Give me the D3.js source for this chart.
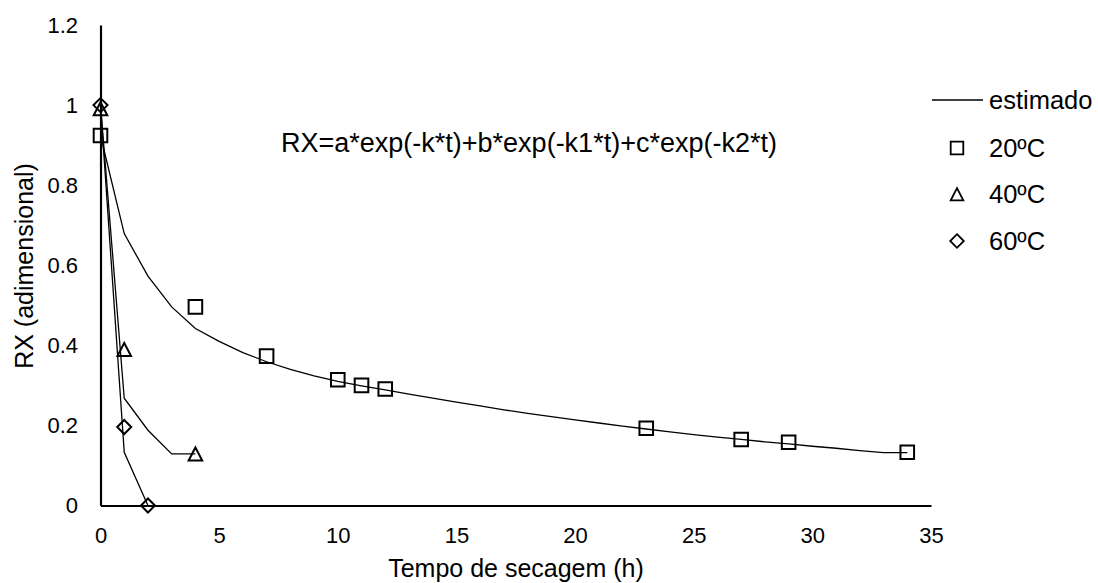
<!DOCTYPE html>
<html><head><meta charset="utf-8">
<script src="https://cdn.jsdelivr.net/npm/d3@7"></script>
<style>body{margin:0;background:#fff} text{font-family:"Liberation Sans",Arial,sans-serif;fill:#000}</style>
</head><body><svg id="c" width="1098" height="583"></svg>
<script>
// observed data
const tObs20 = [0, 4, 7, 10, 11, 12, 23, 27, 29, 34];
const rxObs20 = [0.924, 0.496, 0.373, 0.314, 0.300, 0.291, 0.193, 0.165, 0.158, 0.133];
const tObs40 = [0, 1, 4];
const rxObs40 = [0.99, 0.389, 0.128];
const tObs60 = [0, 1, 2];
const rxObs60 = [1.0, 0.196, 0.0];
// estimated (fitted) curves
const tEst20 = [0,1,2,3,4,5,6,7,8,9,10,11,12,13,14,15,16,17,18,19,20,21,22,23,24,25,26,27,28,29,30,31,32,33,34];
const rxEst20 = [0.924,0.679,0.573,0.496,0.442,0.410,0.382,0.359,0.340,0.324,0.310,0.299,0.289,0.278,0.268,0.258,0.249,0.239,0.230,0.222,0.214,0.206,0.198,0.191,0.184,0.177,0.171,0.165,0.159,0.154,0.148,0.143,0.137,0.132,0.132];
const tEst40 = [0, 1, 2, 3, 4];
const rxEst40 = [1.0, 0.268, 0.188, 0.129, 0.129];
const tEst60 = [0, 1, 2];
const rxEst60 = [1.0, 0.133, 0.0];
const xTicks = [0, 5, 10, 15, 20, 25, 30, 35];
const yTicks = [0, 0.2, 0.4, 0.6, 0.8, 1.0, 1.2];
const legendLabels = ["estimado", "20ºC", "40ºC", "60ºC"];
const equation = "RX=a*exp(-k*t)+b*exp(-k1*t)+c*exp(-k2*t)";
const xTitle = "Tempo de secagem (h)";
const yTitle = "RX (adimensional)";

const svg = d3.select("#c");
const x = d3.scaleLinear().domain([0, 35]).range([100.5, 931]);
const y = d3.scaleLinear().domain([0, 1.2]).range([505.5, 25]);

// axes
const gx = svg.append("g").attr("transform", `translate(0,${y(0)})`)
  .call(d3.axisBottom(x).tickValues(xTicks).tickSize(0).tickPadding(22).tickFormat(d3.format("~g")));
const gy = svg.append("g").attr("transform", `translate(${x(0)},0)`)
  .call(d3.axisLeft(y).tickValues(yTicks).tickSize(0).tickPadding(22.5).tickFormat(d3.format("~g")));
[gx, gy].forEach(g => {
  g.select(".domain").attr("stroke", "#000").attr("stroke-width", 2.2);
  g.selectAll("text").attr("font-size", 22).attr("font-family", '"Liberation Sans",Arial,sans-serif').attr("fill", "#000");
});

// lines
const line = d3.line().x(d => x(d[0])).y(d => y(d[1]));
[[tEst20, rxEst20], [tEst40, rxEst40], [tEst60, rxEst60]].forEach(([ts, vs]) => {
  svg.append("path").datum(ts.map((t, i) => [t, vs[i]]))
    .attr("d", line).attr("fill", "none").attr("stroke", "#000").attr("stroke-width", 1.3);
});

// markers
const sq = s => `M${-s},${-s}L${s},${-s}L${s},${s}L${-s},${s}Z`;
const tri = s => `M0,${-s}L${s},${s*0.92}L${-s},${s*0.92}Z`;
const dia = s => `M0,${-s}L${s},0L0,${s}L${-s},0Z`;
function markers(ts, vs, shape, s) {
  svg.append("g").selectAll("path").data(ts.map((t, i) => [t, vs[i]])).join("path")
    .attr("transform", d => `translate(${x(d[0])},${y(d[1])})`)
    .attr("d", shape(s)).attr("fill", "none").attr("stroke", "#000").attr("stroke-width", 2);
}
markers(tObs20, rxObs20, sq, 6.8);
markers(tObs40, rxObs40, tri, 6.8);
markers(tObs60, rxObs60, dia, 7);

// equation
svg.append("text").attr("x", 281).attr("y", 151.5).attr("font-size", 27).text(equation);

// titles
svg.append("text").attr("x", 516).attr("y", 577).attr("text-anchor", "middle").attr("font-size", 25).text(xTitle);
svg.append("text").attr("transform", "translate(32.5,266) rotate(-90)").attr("text-anchor", "middle").attr("font-size", 25).text(yTitle);

// legend
const lg = svg.append("g");
const ly = [100, 148, 194.5, 241];
lg.append("line").attr("x1", 932).attr("x2", 983).attr("y1", ly[0]).attr("y2", ly[0]).attr("stroke", "#000").attr("stroke-width", 1.3);
const shapes = [null, sq, tri, dia];
legendLabels.forEach((lab, i) => {
  if (shapes[i]) {
    lg.append("path").attr("transform", `translate(957,${ly[i]})`).attr("d", shapes[i](i === 3 ? 6.8 : 6.3))
      .attr("fill", "none").attr("stroke", "#000").attr("stroke-width", 1.8);
  }
  lg.append("text").attr("x", 989).attr("y", ly[i]).attr("dy", "0.35em").attr("font-size", 25.5).text(lab);
});
</script></body></html>
